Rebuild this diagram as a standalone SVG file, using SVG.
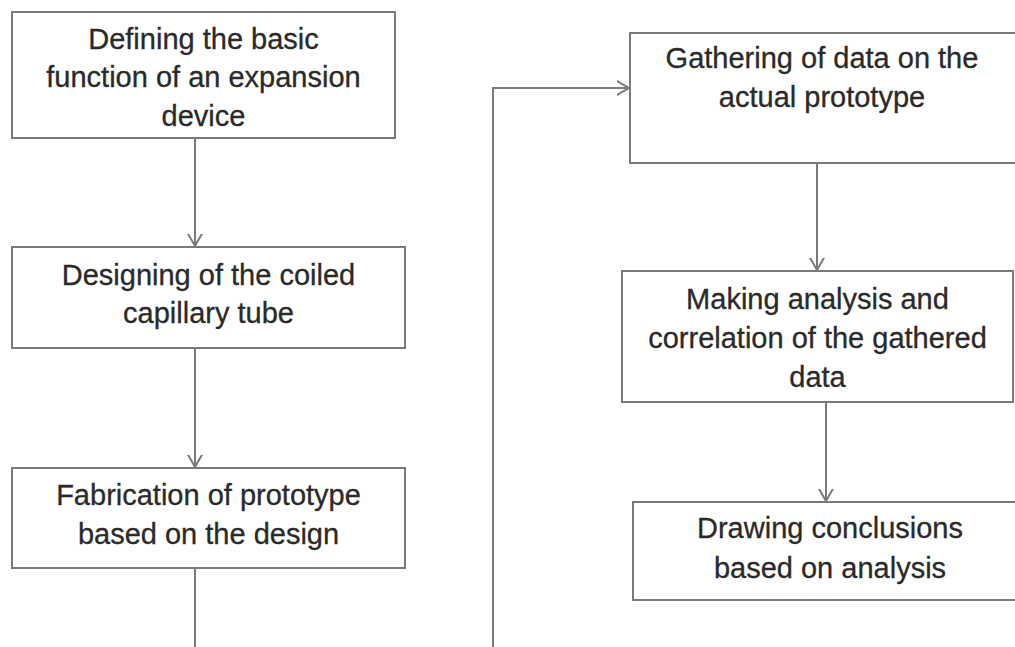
<svg xmlns="http://www.w3.org/2000/svg" width="1015" height="647" viewBox="0 0 1015 647">
  <style>
    .box { fill: #ffffff; stroke: #7a7a7a; stroke-width: 2; }
    .lbl { font-family: "Liberation Sans", Arial, sans-serif; font-size: 29px; fill: #2a2a2a; stroke: #2a2a2a; stroke-width: 0.3; text-anchor: middle; }
    .edge { fill: none; stroke: #7a7a7a; stroke-width: 2; }
  </style>
  <defs>
    <marker id="chev" markerUnits="userSpaceOnUse" markerWidth="24" markerHeight="24" viewBox="-12 -12 24 24" refX="0" refY="0" orient="auto">
      <path d="M-14,-8 L0,0 L-14,8" fill="none" stroke="#7a7a7a" stroke-width="2"/>
    </marker>
  </defs>
  <rect width="1015" height="647" fill="#ffffff"/>

  <g id="connectors">
    <path class="edge" d="M195,138 V246" marker-end="url(#chev)"/>
    <path class="edge" d="M195,348 V467" marker-end="url(#chev)"/>
    <path class="edge" d="M195,568 V647"/>
    <path class="edge" d="M493,647 V88 H629" marker-end="url(#chev)"/>
    <path class="edge" d="M817,163 V270" marker-end="url(#chev)"/>
    <path class="edge" d="M826,402 V501" marker-end="url(#chev)"/>
  </g>

  <g id="n1">
    <rect class="box" x="12" y="12" width="383" height="126"/>
    <text class="lbl" x="203.5" y="49">Defining the basic</text>
    <text class="lbl" x="203.5" y="87">function of an expansion</text>
    <text class="lbl" x="203.5" y="126">device</text>
  </g>
  <g id="n2">
    <rect class="box" x="12" y="247" width="393" height="101"/>
    <text class="lbl" x="208.5" y="285">Designing of the coiled</text>
    <text class="lbl" x="208.5" y="323">capillary tube</text>
  </g>
  <g id="n3">
    <rect class="box" x="12" y="468" width="393" height="100"/>
    <text class="lbl" x="208.5" y="505">Fabrication of prototype</text>
    <text class="lbl" x="208.5" y="544">based on the design</text>
  </g>
  <g id="n4">
    <rect class="box" x="630" y="33" width="400" height="130"/>
    <text class="lbl" x="822" y="68">Gathering of data on the</text>
    <text class="lbl" x="822" y="107">actual prototype</text>
  </g>
  <g id="n5">
    <rect class="box" x="622" y="271" width="391" height="131"/>
    <text class="lbl" x="817.5" y="309">Making analysis and</text>
    <text class="lbl" x="817.5" y="348">correlation of the gathered</text>
    <text class="lbl" x="817.5" y="387">data</text>
  </g>
  <g id="n6">
    <rect class="box" x="633" y="502" width="400" height="98"/>
    <text class="lbl" x="830" y="538">Drawing conclusions</text>
    <text class="lbl" x="830" y="578">based on analysis</text>
  </g>
</svg>
